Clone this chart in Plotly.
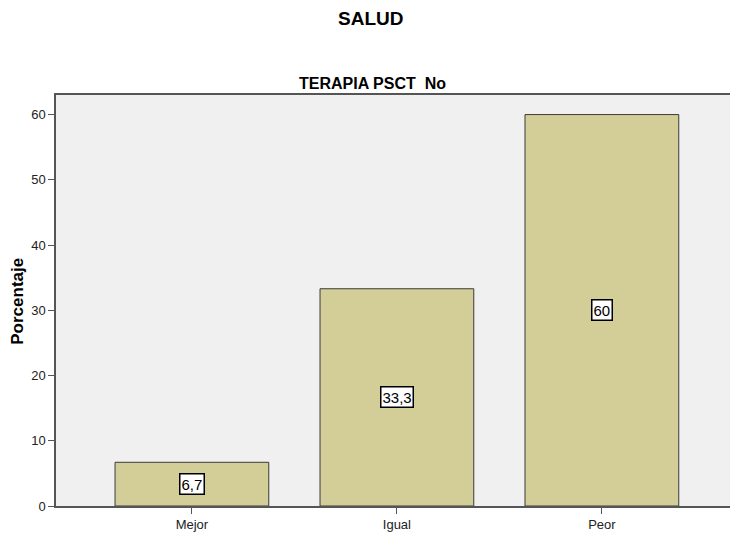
import plotly.graph_objects as go

categories = ["Mejor", "Igual", "Peor"]
values = [6.7, 33.3, 60]
value_labels = ["6,7", "33,3", "60"]
y_ticks = [0, 10, 20, 30, 40, 50, 60]

W, H = 730, 533
L, R, T, B = 56, 0, 95, 27
FONT = "Liberation Sans, Arial"

fig = go.Figure()
fig.add_trace(go.Bar(
    x=categories, y=values, width=0.75,
    marker=dict(color="#d3ce98", line=dict(color="#3a3a3a", width=1)),
    hoverinfo="skip",
))

for c, v, lab in zip(categories, values, value_labels):
    fig.add_annotation(x=c, y=v / 2, text=lab, showarrow=False,
                       xref="x", yref="y",
                       font=dict(family=FONT, size=15, color="#000"),
                       bgcolor="#ffffff", bordercolor="#000000", borderwidth=1.5, borderpad=1)

fig.add_annotation(text="<b>SALUD</b>", xref="paper", yref="paper", x=0.466, y=1.187,
                   showarrow=False, xanchor="center", yanchor="middle",
                   font=dict(family=FONT, size=19, color="#000"))
fig.add_annotation(text="<b>TERAPIA PSCT  No</b>", xref="paper", yref="paper", x=0.469, y=1.027,
                   showarrow=False, xanchor="center", yanchor="middle",
                   font=dict(family=FONT, size=16, color="#000"))
fig.add_annotation(text="<b>Porcentaje</b>", xref="paper", yref="paper", x=0, y=0.497,
                   xshift=-38, textangle=-90, showarrow=False, xanchor="center", yanchor="middle",
                   font=dict(family=FONT, size=17, color="#000"))

fig.update_layout(
    width=W, height=H,
    margin=dict(l=L, r=R, t=T, b=B, pad=0),
    paper_bgcolor="#ffffff", plot_bgcolor="#f0f0f0",
    showlegend=False,
    bargap=0.25,
)
fig.update_xaxes(
    type="category", range=[-0.663, 2.625],
    showline=True, linecolor="#555555", linewidth=1.5, mirror=True,
    ticks="outside", ticklen=6, tickcolor="#555555", tickwidth=1,
    showgrid=False, zeroline=False,
    tickfont=dict(family=FONT, size=13, color="#222"),
)
fig.update_yaxes(
    range=[0, 63], tickvals=y_ticks,
    showline=True, linecolor="#555555", linewidth=1.5,
    ticks="outside", ticklen=6, tickcolor="#555555", tickwidth=1,
    showgrid=False, zeroline=False,
    tickfont=dict(family=FONT, size=13, color="#222"),
)

fig.write_html("out.html", config={"displayModeBar": False},
               post_script="document.body.style.margin='0px';document.body.style.overflow='hidden';")
